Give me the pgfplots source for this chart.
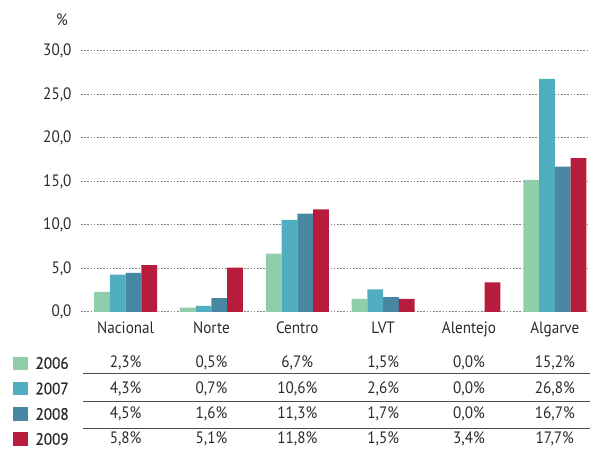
\documentclass[border=0pt]{standalone}
\usepackage{fontspec}
\setmainfont{PT Sans}[FakeStretch=0.92]
\usepackage{pgfplots}
\pgfplotsset{compat=1.18}
\definecolor{c06}{HTML}{8FCEA8}
\definecolor{c07}{HTML}{51ADC0}
\definecolor{c08}{HTML}{4787A2}
\definecolor{c09}{HTML}{B81C3D}
\definecolor{txt}{HTML}{2A2A2A}
\begin{document}
\begin{tikzpicture}[x=1pt,y=1pt,font=\fontsize{16.5}{19}\selectfont,text=txt]
\path[use as bounding box] (0,0) rectangle (590,449);
\begin{axis}[
  at={(81pt,137pt)}, anchor=south west,
  scale only axis, width=509pt, height=261pt,
  xmin=-0.52, xmax=5.41, ymin=0, ymax=30,
  ybar=0pt, bar width=15.75pt,
  axis line style={draw=none}, major tick length=0pt,
  ytick={0,5,...,30}, ymajorgrids,
  grid style={dash pattern=on 1.6pt off 1.6pt, line width=1pt, black!50},
  xtick={0,...,5}, xticklabels={Nacional,Norte,Centro,LVT,Alentejo,Algarve},
  xticklabel style={yshift=-6pt},
  yticklabel style={xshift=-6pt,/pgf/number format/.cd,fixed,fixed zerofill,precision=1,use comma},
  /pgf/number format/assume math mode=true,
  ticklabel style={font=\fontsize{16.5}{19}\selectfont, text=txt},
  clip=false,
]
\addplot[fill=c06, draw=none] coordinates {(0,2.3) (1,0.5) (2,6.7) (3,1.5) (4,0) (5,15.2)};
\addplot[fill=c07, draw=none] coordinates {(0,4.3) (1,0.7) (2,10.6) (3,2.6) (4,0) (5,26.8)};
\addplot[fill=c08, draw=none] coordinates {(0,4.5) (1,1.6) (2,11.3) (3,1.7) (4,0) (5,16.7)};
\addplot[fill=c09, draw=none] coordinates {(0,5.4) (1,5.1) (2,11.8) (3,1.5) (4,3.4) (5,17.7)};
\end{axis}
\node at (62,429) {\%};
% table
\foreach \yy in {75.5,48,21} \draw[line width=0.9pt, black!70] (83,\yy) -- (590,\yy);
\fill[c06] (13,79) rectangle (28,92);
\fill[c07] (13,54) rectangle (28,67);
\fill[c08] (13,28) rectangle (28,42);
\fill[c09] (13,3) rectangle (28,17);
\begin{scope}[every node/.style={anchor=west, font=\fontsize{16.5}{19}\selectfont\addfontfeature{FakeBold=0.6}}]
\node at (32,86) {2006};
\node at (32,60.5) {2007};
\node at (32,35) {2008};
\node at (32,10) {2009};
\end{scope}
\foreach \x/\a/\b/\c/\d in {125.6/{2,3}/{4,3}/{4,5}/{5,8}, 211.5/{0,5}/{0,7}/{1,6}/{5,1}, 297.3/{6,7}/{10,6}/{11,3}/{11,8}, 383.2/{1,5}/{2,6}/{1,7}/{1,5}, 469.0/{0,0}/{0,0}/{0,0}/{3,4}, 554.8/{15,2}/{26,8}/{16,7}/{17,7}}{
  \node at (\x,86) {\a\%};
  \node at (\x,60.5) {\b\%};
  \node at (\x,35) {\c\%};
  \node at (\x,10) {\d\%};
}
\end{tikzpicture}
\end{document}
